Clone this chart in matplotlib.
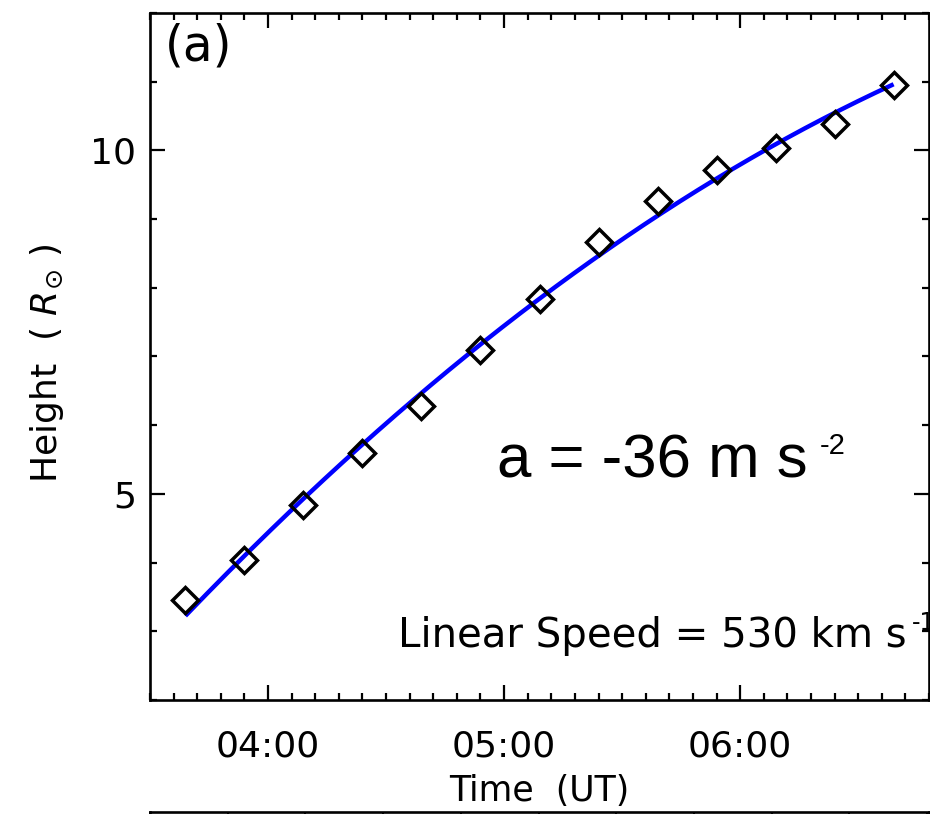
import numpy as np
import matplotlib
matplotlib.use("Agg")
import matplotlib.pyplot as plt
from matplotlib.ticker import MultipleLocator, FixedLocator, FuncFormatter

# ---- data ----
obs_times = ["03:39", "03:54", "04:09", "04:24", "04:39", "04:54", "05:09",
             "05:24", "05:39", "05:54", "06:09", "06:24", "06:39"]
heights = [3.45, 4.04, 4.84, 5.60, 6.28, 7.10, 7.84,
           8.66, 9.27, 9.72, 10.03, 10.38, 10.95]
x_tick_labels = ["04:00", "05:00", "06:00"]
y_tick_values = [5, 10]
panel_label = "(a)"
accel_text = "a = -36 m s"
accel_exp = "-2"
speed_text = "Linear Speed = 530 km s"
speed_exp = "-1"


def to_hours(s):
    h, m = s.split(":")
    return int(h) + int(m) / 60.0


t_hours = np.array([to_hours(s) for s in obs_times])
h_vals = np.array(heights)

# quadratic fit of the height-time points
coef = np.polyfit(t_hours, h_vals, 2)
t_fit = np.linspace(t_hours.min(), t_hours.max(), 200)
h_fit = np.polyval(coef, t_fit)

W, H = 930, 814
fig = plt.figure(figsize=(W / 100, H / 100), dpi=100)
ax = fig.add_axes([150 / W, (H - 700) / H, 779 / W, 687 / H])

ax.plot(t_fit, h_fit, color=(0, 0, 1), lw=3.2, solid_capstyle="butt", zorder=2)
ax.plot(t_hours, h_vals, linestyle="none", marker="D", markersize=12.8,
        markerfacecolor="none", markeredgecolor="black", markeredgewidth=2.5,
        zorder=3)

ax.set_xlim(3.5, 6.8)
ax.set_ylim(2, 12)

ax.xaxis.set_major_locator(FixedLocator([to_hours(s) for s in x_tick_labels]))
ax.xaxis.set_major_formatter(FuncFormatter(
    lambda v, p: "%02d:%02d" % (int(v + 1e-6), int(round((v - int(v + 1e-6)) * 60)))))
ax.xaxis.set_minor_locator(MultipleLocator(0.1))
ax.yaxis.set_major_locator(FixedLocator(y_tick_values))
ax.yaxis.set_minor_locator(MultipleLocator(1))

ax.tick_params(which="both", direction="in", top=True, right=True,
               width=1.6, color="black")
ax.tick_params(which="major", length=10.5)
ax.tick_params(which="minor", length=5)
ax.tick_params(axis="x", which="major", labelsize=26, pad=21)
ax.tick_params(axis="y", which="major", labelsize=26, pad=10)
for sp in ax.spines.values():
    sp.set_linewidth(1.9)

ax.set_xlabel("Time  (UT)", fontsize=25)
ax.xaxis.set_label_coords(0.5, -0.108)
ax.xaxis.label.set_va("top")
ax.set_ylabel(r"Height  ( $R_{\odot}$ )", fontsize=26)
ax.yaxis.set_label_coords(-0.132, 0.49)
ax.yaxis.label.set_va("center")

ax.text(0.019, 0.986, panel_label, transform=ax.transAxes, fontsize=35,
        va="top", ha="left")

ax.text((497 - 150) / 779, (700 - 477) / 687, accel_text, transform=ax.transAxes,
        fontsize=44.5, family="Liberation Sans", ha="left", va="baseline")
ax.text((820 - 150) / 779, (700 - 454) / 687, accel_exp, transform=ax.transAxes,
        fontsize=21, family="Liberation Sans", ha="left", va="baseline")

ax.text((398 - 150) / 779, (700 - 647) / 687, speed_text, transform=ax.transAxes,
        fontsize=29, ha="left", va="baseline", clip_on=False)
ax.text((912 - 150) / 779, (700 - 630) / 687, speed_exp, transform=ax.transAxes,
        fontsize=17, ha="left", va="baseline", clip_on=False)

# top edge of the next panel, visible at the bottom of the image
ax2 = fig.add_axes([150 / W, -0.3, 779 / W, 0.3 + 2 / H])
ax2.set_xlim(0, 779 / 77.7)
ax2.set_ylim(0, 1)
ax2.xaxis.set_major_locator(MultipleLocator(1))
ax2.tick_params(axis="x", which="both", direction="in", top=True, bottom=False,
                labeltop=False, labelbottom=False, length=6, width=1.4)
ax2.tick_params(axis="y", left=False, labelleft=False)
for sp in ax2.spines.values():
    sp.set_linewidth(1.9)

fig.savefig("out.png", dpi=100)
